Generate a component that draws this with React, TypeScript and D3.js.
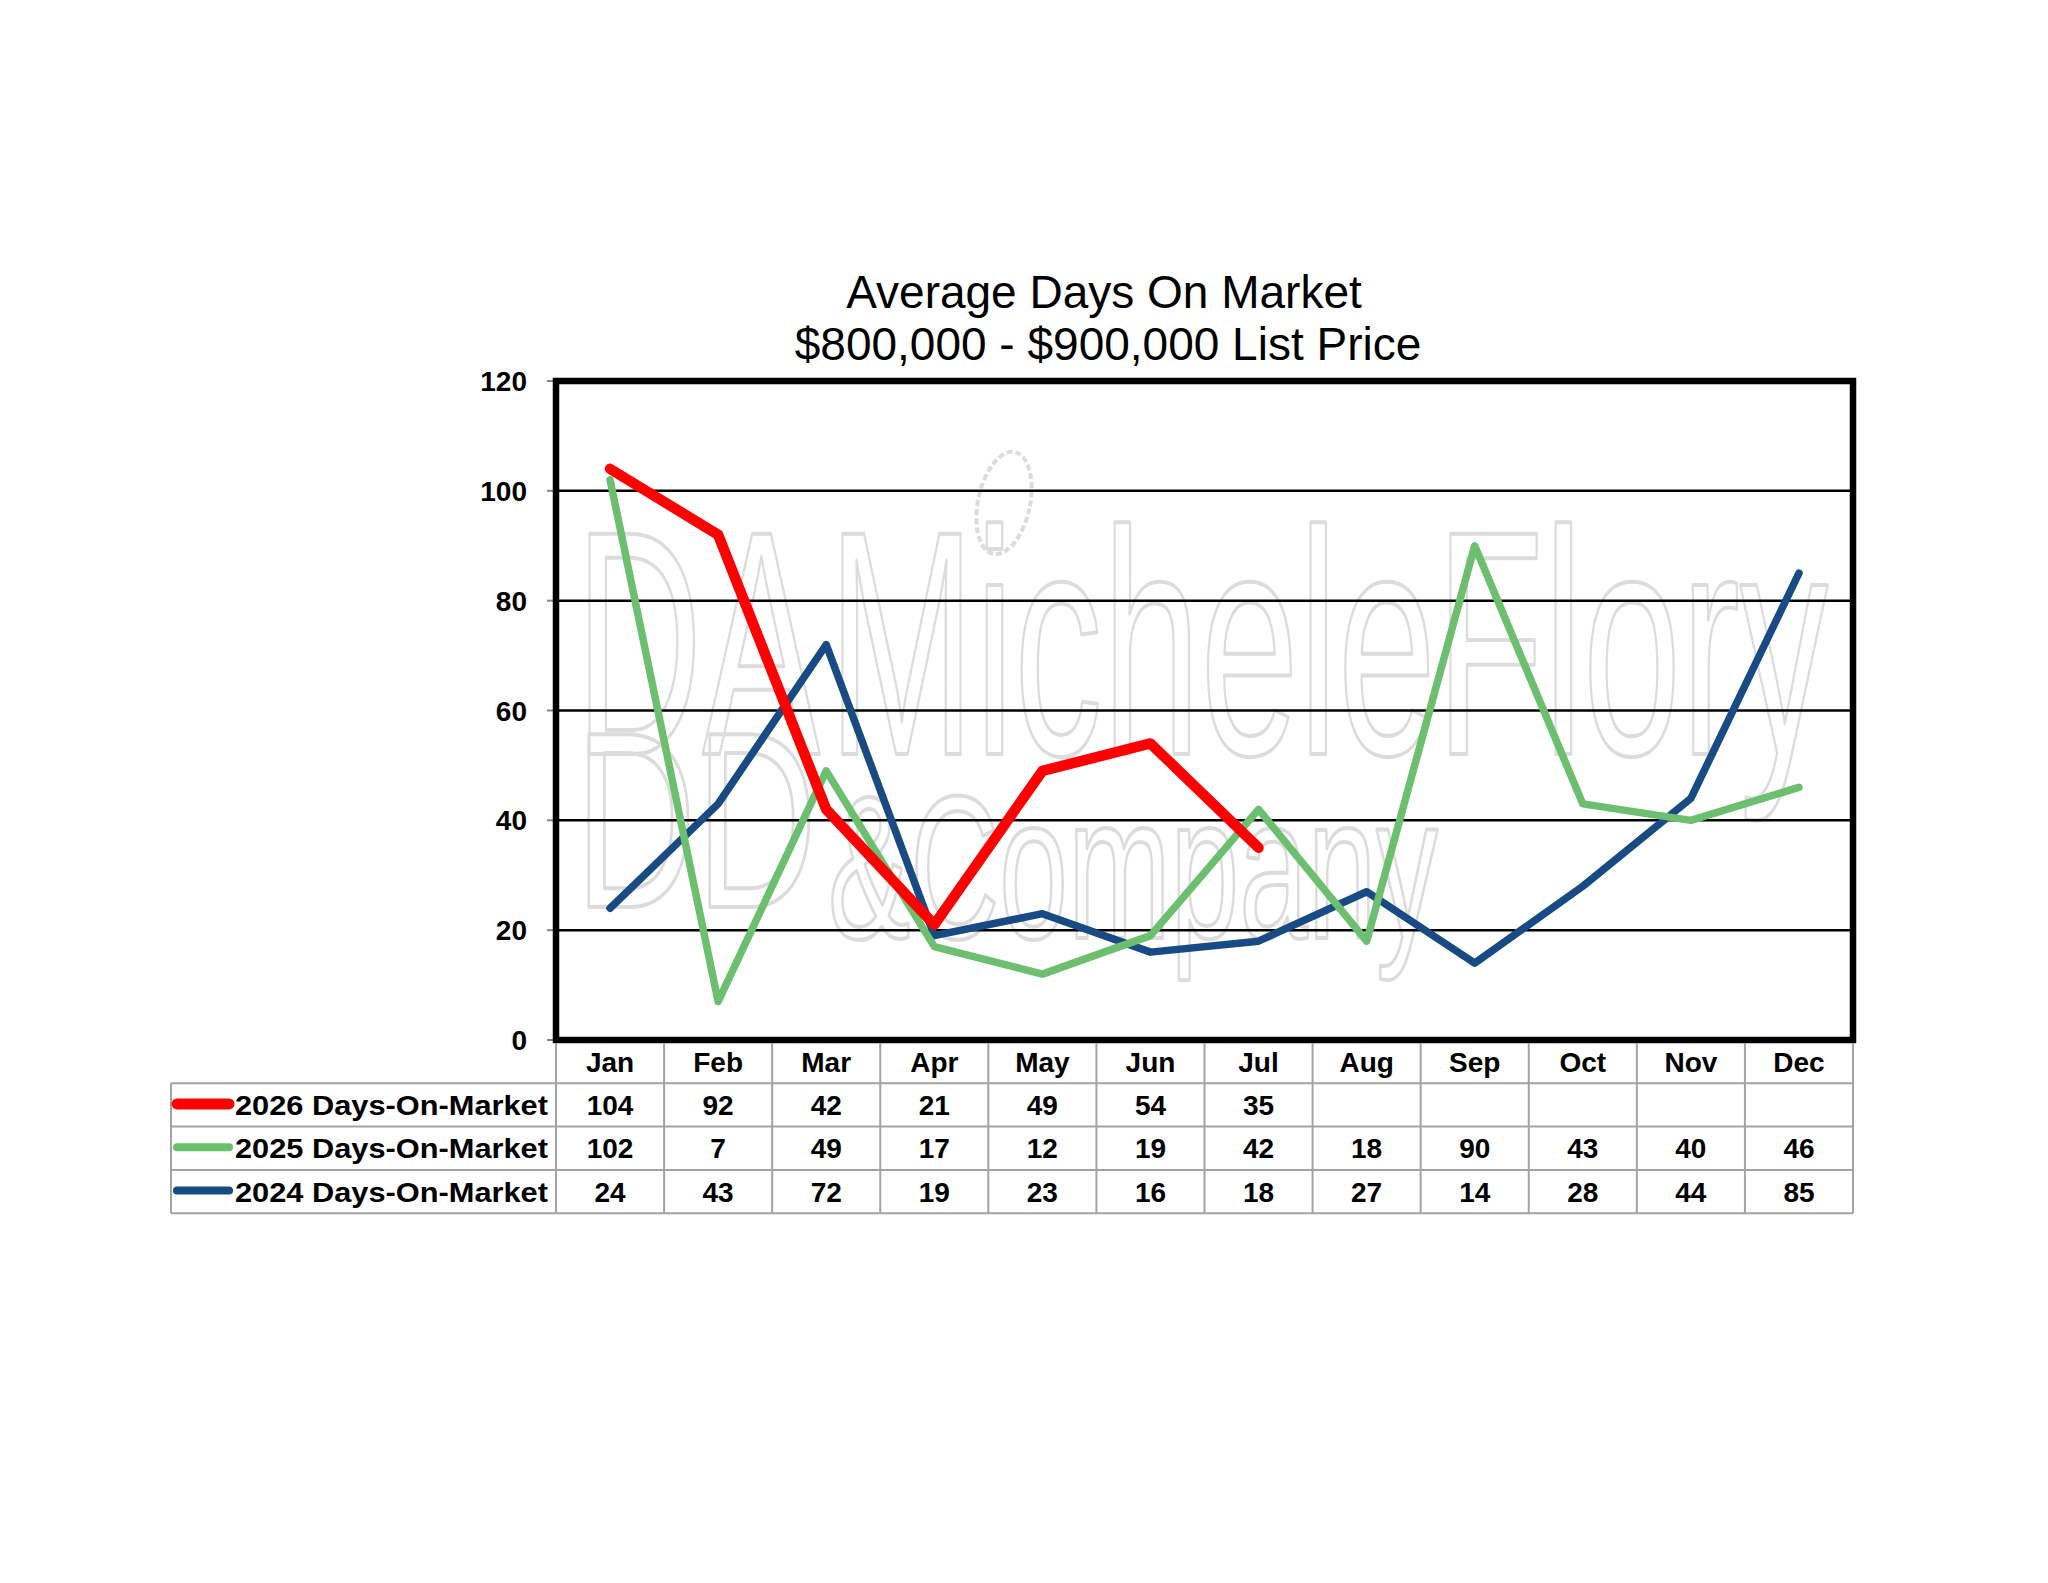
import * as d3 from "d3";

const months = ["Jan", "Feb", "Mar", "Apr", "May", "Jun", "Jul", "Aug", "Sep", "Oct", "Nov", "Dec"];
const dom2026: (number | null)[] = [104, 92, 42, 21, 49, 54, 35, null, null, null, null, null];
const dom2025: (number | null)[] = [102, 7, 49, 17, 12, 19, 42, 18, 90, 43, 40, 46];
const dom2024: (number | null)[] = [24, 43, 72, 19, 23, 16, 18, 27, 14, 28, 44, 85];
const yTicks = [0, 20, 40, 60, 80, 100, 120];

const seriesNames = ["2026 Days-On-Market", "2025 Days-On-Market", "2024 Days-On-Market"];
const seriesColors = ["#ff0000", "#6cbf6e", "#184a84"];
const seriesWidths = [10.5, 7.5, 7.5];
const seriesValues = [dom2026, dom2025, dom2024];

const W = 2048;
const H = 1583;
const plot = { left: 556, right: 1853, top: 381, bottom: 1040 };
const table = { left: 171, rowH: 43.3 };
const FONT = "'Liberation Sans', Arial, sans-serif";

export default function App() {
  const x = d3.scaleBand<string>().domain(months).range([plot.left, plot.right]);
  const y = d3.scaleLinear().domain([0, 120]).range([plot.bottom, plot.top]);
  const cx = (m: string) => (x(m) ?? 0) + x.bandwidth() / 2;

  const line = d3
    .line<number | null>()
    .defined((d) => d != null)
    .x((_, i) => cx(months[i]))
    .y((d) => y(d as number));

  const rowTop = (r: number) => plot.bottom + table.rowH * r;
  const tableBottom = rowTop(4);
  const grey = "#a3a3a3";
  const wm = "#dcdcdc";

  // red goes on top
  const drawOrder = [2, 1, 0];

  return (
    <svg
      width={W}
      height={H}
      style={{ position: "absolute", left: 0, top: 0, background: "#fff" }}
      fontFamily={FONT}
    >
      {/* title */}
      <text x={1104} y={308} fontSize={46} textAnchor="middle">
        Average Days On Market
      </text>
      <text x={1108} y={360} fontSize={46} textAnchor="middle">
        $800,000 - $900,000 List Price
      </text>

      {/* watermark */}
      <g fill="none" stroke={wm} strokeWidth={4} strokeLinejoin="round">
        <text x={575} y={754} fontSize={320} textLength={245} lengthAdjust="spacingAndGlyphs">
          DA
        </text>
        <text x={828} y={754} fontSize={320} textLength={1000} lengthAdjust="spacingAndGlyphs">
          MicheleFlory
        </text>
        <text x={575} y={907} fontSize={250} textLength={242} lengthAdjust="spacingAndGlyphs">
          DD
        </text>
        <text x={828} y={938} fontSize={205} textLength={610} lengthAdjust="spacingAndGlyphs">
          &amp;Company
        </text>
        <ellipse cx={1004} cy={503} rx={26} ry={52} transform="rotate(12 1004 503)" strokeDasharray="6 3" />
      </g>

      {/* gridlines */}
      {yTicks
        .filter((t) => t > 0 && t < 120)
        .map((t) => (
          <line key={t} x1={plot.left} x2={plot.right} y1={y(t)} y2={y(t)} stroke="#000" strokeWidth={2.5} />
        ))}

      {/* y ticks + labels */}
      {yTicks.map((t) => (
        <g key={t}>
          <line x1={plot.left - 9} x2={plot.left} y1={y(t)} y2={y(t)} stroke="#888" strokeWidth={2} />
          <text x={527} y={y(t) + 10} fontSize={28} fontWeight="bold" textAnchor="end">
            {t}
          </text>
        </g>
      ))}

      {/* series lines */}
      {drawOrder.map((i) => (
        <path
          key={seriesNames[i]}
          d={line(seriesValues[i]) ?? ""}
          fill="none"
          stroke={seriesColors[i]}
          strokeWidth={seriesWidths[i]}
          strokeLinejoin="round"
          strokeLinecap="round"
        />
      ))}

      {/* plot frame */}
      <rect
        x={plot.left}
        y={plot.top}
        width={plot.right - plot.left}
        height={plot.bottom - plot.top}
        fill="none"
        stroke="#000"
        strokeWidth={6.5}
      />

      {/* data table */}
      <g stroke={grey} strokeWidth={2}>
        {[1, 2, 3, 4].map((r) => (
          <line key={r} x1={table.left} x2={plot.right} y1={rowTop(r)} y2={rowTop(r)} />
        ))}
        <line x1={table.left} x2={table.left} y1={rowTop(1)} y2={tableBottom} />
        {months.map((m) => (
          <line key={m} x1={x(m)} x2={x(m)} y1={plot.bottom + 3} y2={tableBottom} />
        ))}
        <line x1={plot.right} x2={plot.right} y1={plot.bottom + 3} y2={tableBottom} />
      </g>

      {months.map((m) => (
        <text key={m} x={cx(m)} y={rowTop(0) + table.rowH / 2 + 10} fontSize={28} fontWeight="bold" textAnchor="middle">
          {m}
        </text>
      ))}

      {seriesValues.map((vals, r) => (
        <g key={seriesNames[r]}>
          <line
            x1={177}
            x2={229}
            y1={rowTop(r + 1) + table.rowH / 2 - 1}
            y2={rowTop(r + 1) + table.rowH / 2 - 1}
            stroke={seriesColors[r]}
            strokeWidth={r === 0 ? 11 : 8}
            strokeLinecap="round"
          />
          <text
            x={235}
            y={rowTop(r + 1) + table.rowH / 2 + 10}
            fontSize={28}
            fontWeight="bold"
            textLength={313}
            lengthAdjust="spacingAndGlyphs"
          >
            {seriesNames[r]}
          </text>
          {vals.map((v, i) =>
            v == null ? null : (
              <text
                key={months[i]}
                x={cx(months[i])}
                y={rowTop(r + 1) + table.rowH / 2 + 10}
                fontSize={28}
                fontWeight="bold"
                textAnchor="middle"
              >
                {v}
              </text>
            )
          )}
        </g>
      ))}
    </svg>
  );
}
